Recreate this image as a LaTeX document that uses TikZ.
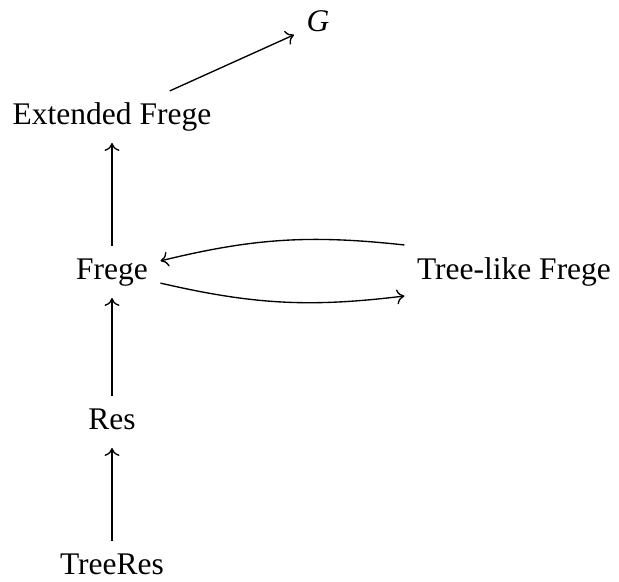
\documentclass[tikz,border=0pt]{standalone}
\usepackage{fontspec}
\setmainfont{Liberation Serif}
\usetikzlibrary{arrows.meta}
\begin{document}
\begin{tikzpicture}[x=0.33333pt,y=-0.33333pt,
  lbl/.style={font=\fontsize{10.5}{12}\selectfont, text height=7pt, text depth=2pt, inner sep=4pt},
  arr/.style={-{To[length=2.6pt,width=5pt]}, line width=0.45pt}]
\useasboundingbox (0,0) rectangle (619,582);
\node[lbl] (g) at (318,24) {\textit{G}};
\node[lbl] (ef) at (112,117) {Extended Frege};
\node[lbl] (f) at (112,272) {Frege};
\node[lbl] (tl) at (514,272) {Tree-like Frege};
\node[lbl] (r) at (112,422) {Res};
\node[lbl] (tr) at (112,567) {TreeRes};
\draw[arr] (tr) -- (r);
\draw[arr] (r) -- (f);
\draw[arr] (f) -- (ef);
\draw[arr] (ef) -- (g);
\draw[arr] ([yshift=9pt]tl.west) to[bend right=10] ([yshift=3.7pt]f.east);
\draw[arr] ([yshift=-3.7pt]f.east) to[bend right=10] ([yshift=-8pt]tl.west);
\end{tikzpicture}
\end{document}
